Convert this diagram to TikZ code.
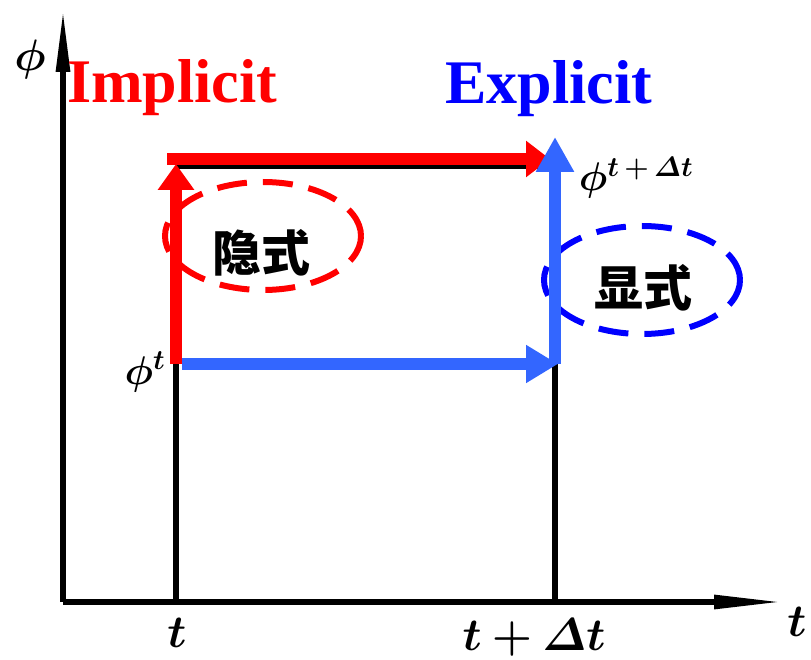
\RequirePackage{fix-cm}
\documentclass[tikz,border=0pt]{standalone}
\usepackage{amsmath}
\usepackage{bm}
\usepackage{fontspec}
\setmainfont{Liberation Serif}
\newfontfamily\cjk{Noto Sans CJK SC}
\usetikzlibrary{arrows.meta, shapes.geometric}
\definecolor{arrowblue}{RGB}{51,102,255}

\begin{document}
\begin{tikzpicture}[x=1pt, y=-1pt,
                axis/.style={line width=6pt, black},
                frame/.style={line width=6pt, black},
                implicitpath/.style={line width=12pt, red},
                explicitpath/.style={line width=12pt, arrowblue},
                ring/.style={ellipse, line width=6pt, dash pattern=on 30pt off 16pt, inner sep=0pt, minimum width=196pt, minimum height=108pt},
                scheme/.style={font=\fontsize{62}{70}\selectfont\bfseries, inner sep=0pt, anchor=base west},
                hanzi/.style={font=\fontsize{49}{56}\selectfont\cjk\bfseries, inner sep=0pt},
                sym/.style={inner sep=0pt}
            ]
                \useasboundingbox (0,0) rectangle (811,660);

                % Coordinates
                \coordinate (o) at (63,602);
                \coordinate (ytop) at (63,8);
                \coordinate (xend) at (784,602);
                \coordinate (tb) at (176,602);
                \coordinate (tm) at (176,364);
                \coordinate (tt) at (176,164);
                \coordinate (db) at (555,602);
                \coordinate (dm) at (555,364);
                \coordinate (dt) at (555,166);
                \coordinate (rs) at (167,159);
                \coordinate (re) at (550,159);
                \coordinate (bs) at (182,364);
                \coordinate (be) at (558,364);
                \coordinate (bt) at (555,137);

                % Axes and frame
                \draw[axis, -{Triangle[length=64pt,width=13pt]}] (o) -- (ytop);
                \draw[axis, -{Triangle[length=70pt,width=13pt]}] (o) -- (xend);
                \draw[frame] (tb) -- (tm);
                \draw[frame] (db) -- (dm);
                \draw[frame] (176,166) -- (dt);

                % Rings
                \node[ring, draw=red] (redring) at (263,236) {};
                \node[ring, draw=blue] (bluering) at (642,280) {};
                \node[hanzi] (yinshi) at (261,253) {隐式};
                \node[hanzi] (xianshi) at (643,288) {显式};

                % Paths: implicit
                \draw[implicitpath, -{Triangle[length=26pt,width=35pt]}] (tm) -- (tt);
                \draw[implicitpath, -{Triangle[length=24pt,width=35pt]}] (rs) -- (re);

                % Paths: explicit
                \draw[explicitpath, -{Triangle[length=32pt,width=36pt]}] (bs) -- (be);
                \draw[explicitpath, -{Triangle[length=35pt,width=36pt]}] (dm) -- (bt);

                % Labels
                \node[scheme, text=red] (implicit) at (67,103) {Implicit};
                \node[scheme, text=blue] (explicit) at (445,104) {Explicit};

                \node[sym, font=\fontsize{44}{50}\selectfont] (phi) at (30,60) {$\bm{\phi}$};
                \node[sym, font=\fontsize{40}{46}\selectfont] (phit) at (145,372) {$\bm{\phi^{t}}$};
                \node[sym, font=\fontsize{40}{46}\selectfont] (phidt) at (636,178) {$\bm{\phi^{t\,+\,\varDelta t}}$};

                \node[sym, font=\fontsize{46}{52}\selectfont] (t0) at (177,633) {$\bm{t}$};
                \node[sym, font=\fontsize{46}{52}\selectfont] (t1) at (534,638) {$\bm{t+\varDelta t}$};
                \node[sym, font=\fontsize{46}{52}\selectfont] (tx) at (797,622) {$\bm{t}$};
            \end{tikzpicture}
\end{document}
